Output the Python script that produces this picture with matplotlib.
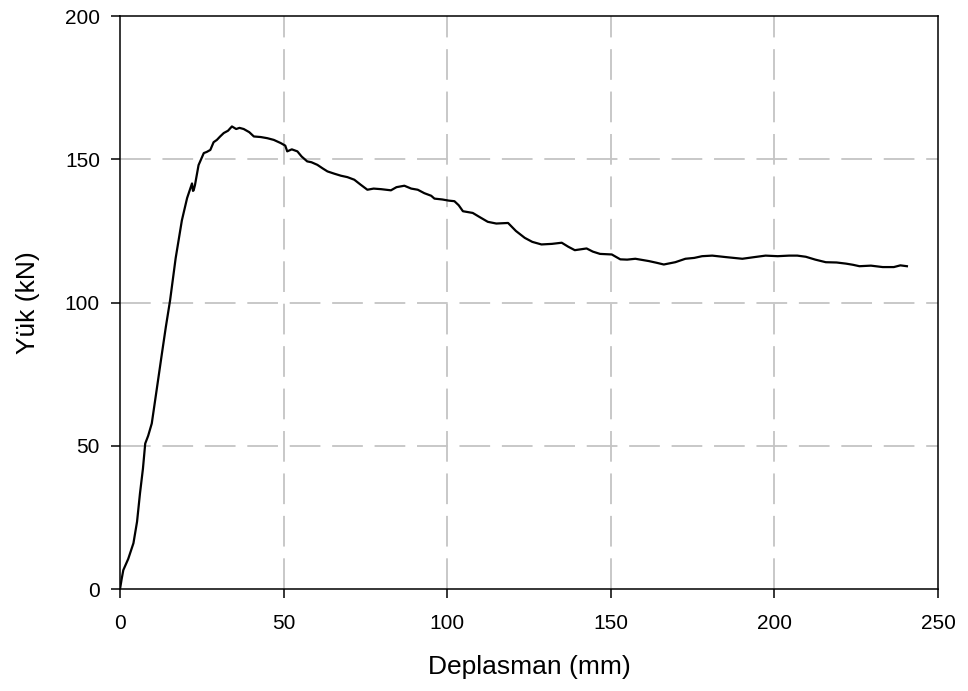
import matplotlib.pyplot as plt

plt.rcParams['font.family'] = ['Liberation Sans', 'DejaVu Sans']

# displacement (mm) and load (kN)
deplasman = [0, 0.5, 1.0, 2.5, 4.1, 5.2, 6.1, 7.0, 7.7, 8.6, 9.7, 11.0, 12.8, 14.0,
             15.3, 17.0, 18.9, 20.5, 22.0, 22.3, 22.5, 22.9, 24.0, 25.6, 26.5, 27.6,
             28.6, 29.6, 30.6, 31.7, 33.0, 34.2, 35.5, 36.5, 37.8, 39.5, 40.9, 43.0,
             45.0, 47.0, 49.1, 50.5, 51.1, 52.5, 54.2, 55.5, 57.2, 58.5, 60.3, 62.0,
             63.4, 65.5, 67.5, 69.5, 71.6, 73.5, 75.6, 77.5, 79.8, 82.8, 84.5, 86.9,
             89.0, 91.0, 93.0, 95.1, 96.1, 98.5, 100.5, 102.2, 103.5, 104.8, 107.8,
             110.0, 112.4, 115.0, 118.6, 121.0, 123.7, 126.0, 128.8, 132.0, 135.0,
             137.0, 139.0, 142.6, 144.5, 146.7, 150.3, 152.9, 155.0, 157.5, 161.6,
             164.0, 166.2, 167.5, 169.7, 172.8, 175.5, 177.9, 181.0, 185.0, 190.2,
             194.0, 197.3, 201.0, 204.5, 207.0, 209.6, 212.5, 215.7, 219.0, 221.9,
             224.0, 226.0, 229.5, 233.1, 236.5, 238.5, 240.5]
yuk = [0, 3.5, 6.6, 10.5, 16.0, 23.5, 33.4, 42.0, 50.8, 53.5, 57.8, 68.0, 82.2, 91.5,
       100.8, 115.5, 128.7, 136.5, 141.6, 139.0, 139.2, 141.0, 148.0, 152.2, 152.6,
       153.3, 156.0, 156.8, 158.0, 159.2, 160.0, 161.5, 160.6, 161.0, 160.6, 159.5,
       158.0, 157.8, 157.4, 156.8, 155.7, 154.8, 152.8, 153.5, 152.8, 151.0, 149.3,
       149.0, 148.1, 146.8, 145.8, 145.0, 144.3, 143.8, 142.9, 141.2, 139.4, 139.8,
       139.6, 139.2, 140.3, 140.8, 139.8, 139.4, 138.2, 137.3, 136.3, 136.0, 135.6,
       135.4, 134.0, 131.9, 131.3, 129.8, 128.2, 127.6, 127.8, 125.0, 122.6, 121.2,
       120.3, 120.5, 120.9, 119.5, 118.3, 118.9, 117.8, 117.0, 116.8, 115.1, 115.0,
       115.3, 114.5, 113.9, 113.3, 113.6, 114.1, 115.3, 115.6, 116.2, 116.4, 115.9,
       115.3, 115.9, 116.4, 116.2, 116.4, 116.4, 116.0, 115.0, 114.1, 114.0, 113.6,
       113.2, 112.7, 112.9, 112.4, 112.4, 113.0, 112.7]

x_ticks = [0, 50, 100, 150, 200, 250]
y_ticks = [0, 50, 100, 150, 200]

fig = plt.figure(figsize=(9.68, 6.91), dpi=100)
ax = fig.add_axes([0.124, 0.1476, 0.845, 0.829])

for x in x_ticks[1:-1]:
    ax.axvline(x, color='#c4c4c4', lw=1.3, dashes=(17, 6.5), zorder=1)
for y in y_ticks[1:-1]:
    ax.axhline(y, color='#c4c4c4', lw=1.3, dashes=(17, 6.5), zorder=1)

ax.plot(deplasman, yuk, color='black', lw=1.6, zorder=3)

ax.set_xlim(0, 250)
ax.set_ylim(0, 200)
ax.set_xticks(x_ticks)
ax.set_yticks(y_ticks)
ax.tick_params(direction='out', length=6.5, width=1.1, labelsize=15)
ax.tick_params(axis='x', pad=11.5)
ax.tick_params(axis='y', pad=8)
for s in ax.spines.values():
    s.set_linewidth(1.1)

ax.set_xlabel('Deplasman (mm)', fontsize=19, labelpad=16)
ax.set_ylabel('Yük (kN)', fontsize=19, labelpad=18)

fig.savefig('out.png', dpi=100)
